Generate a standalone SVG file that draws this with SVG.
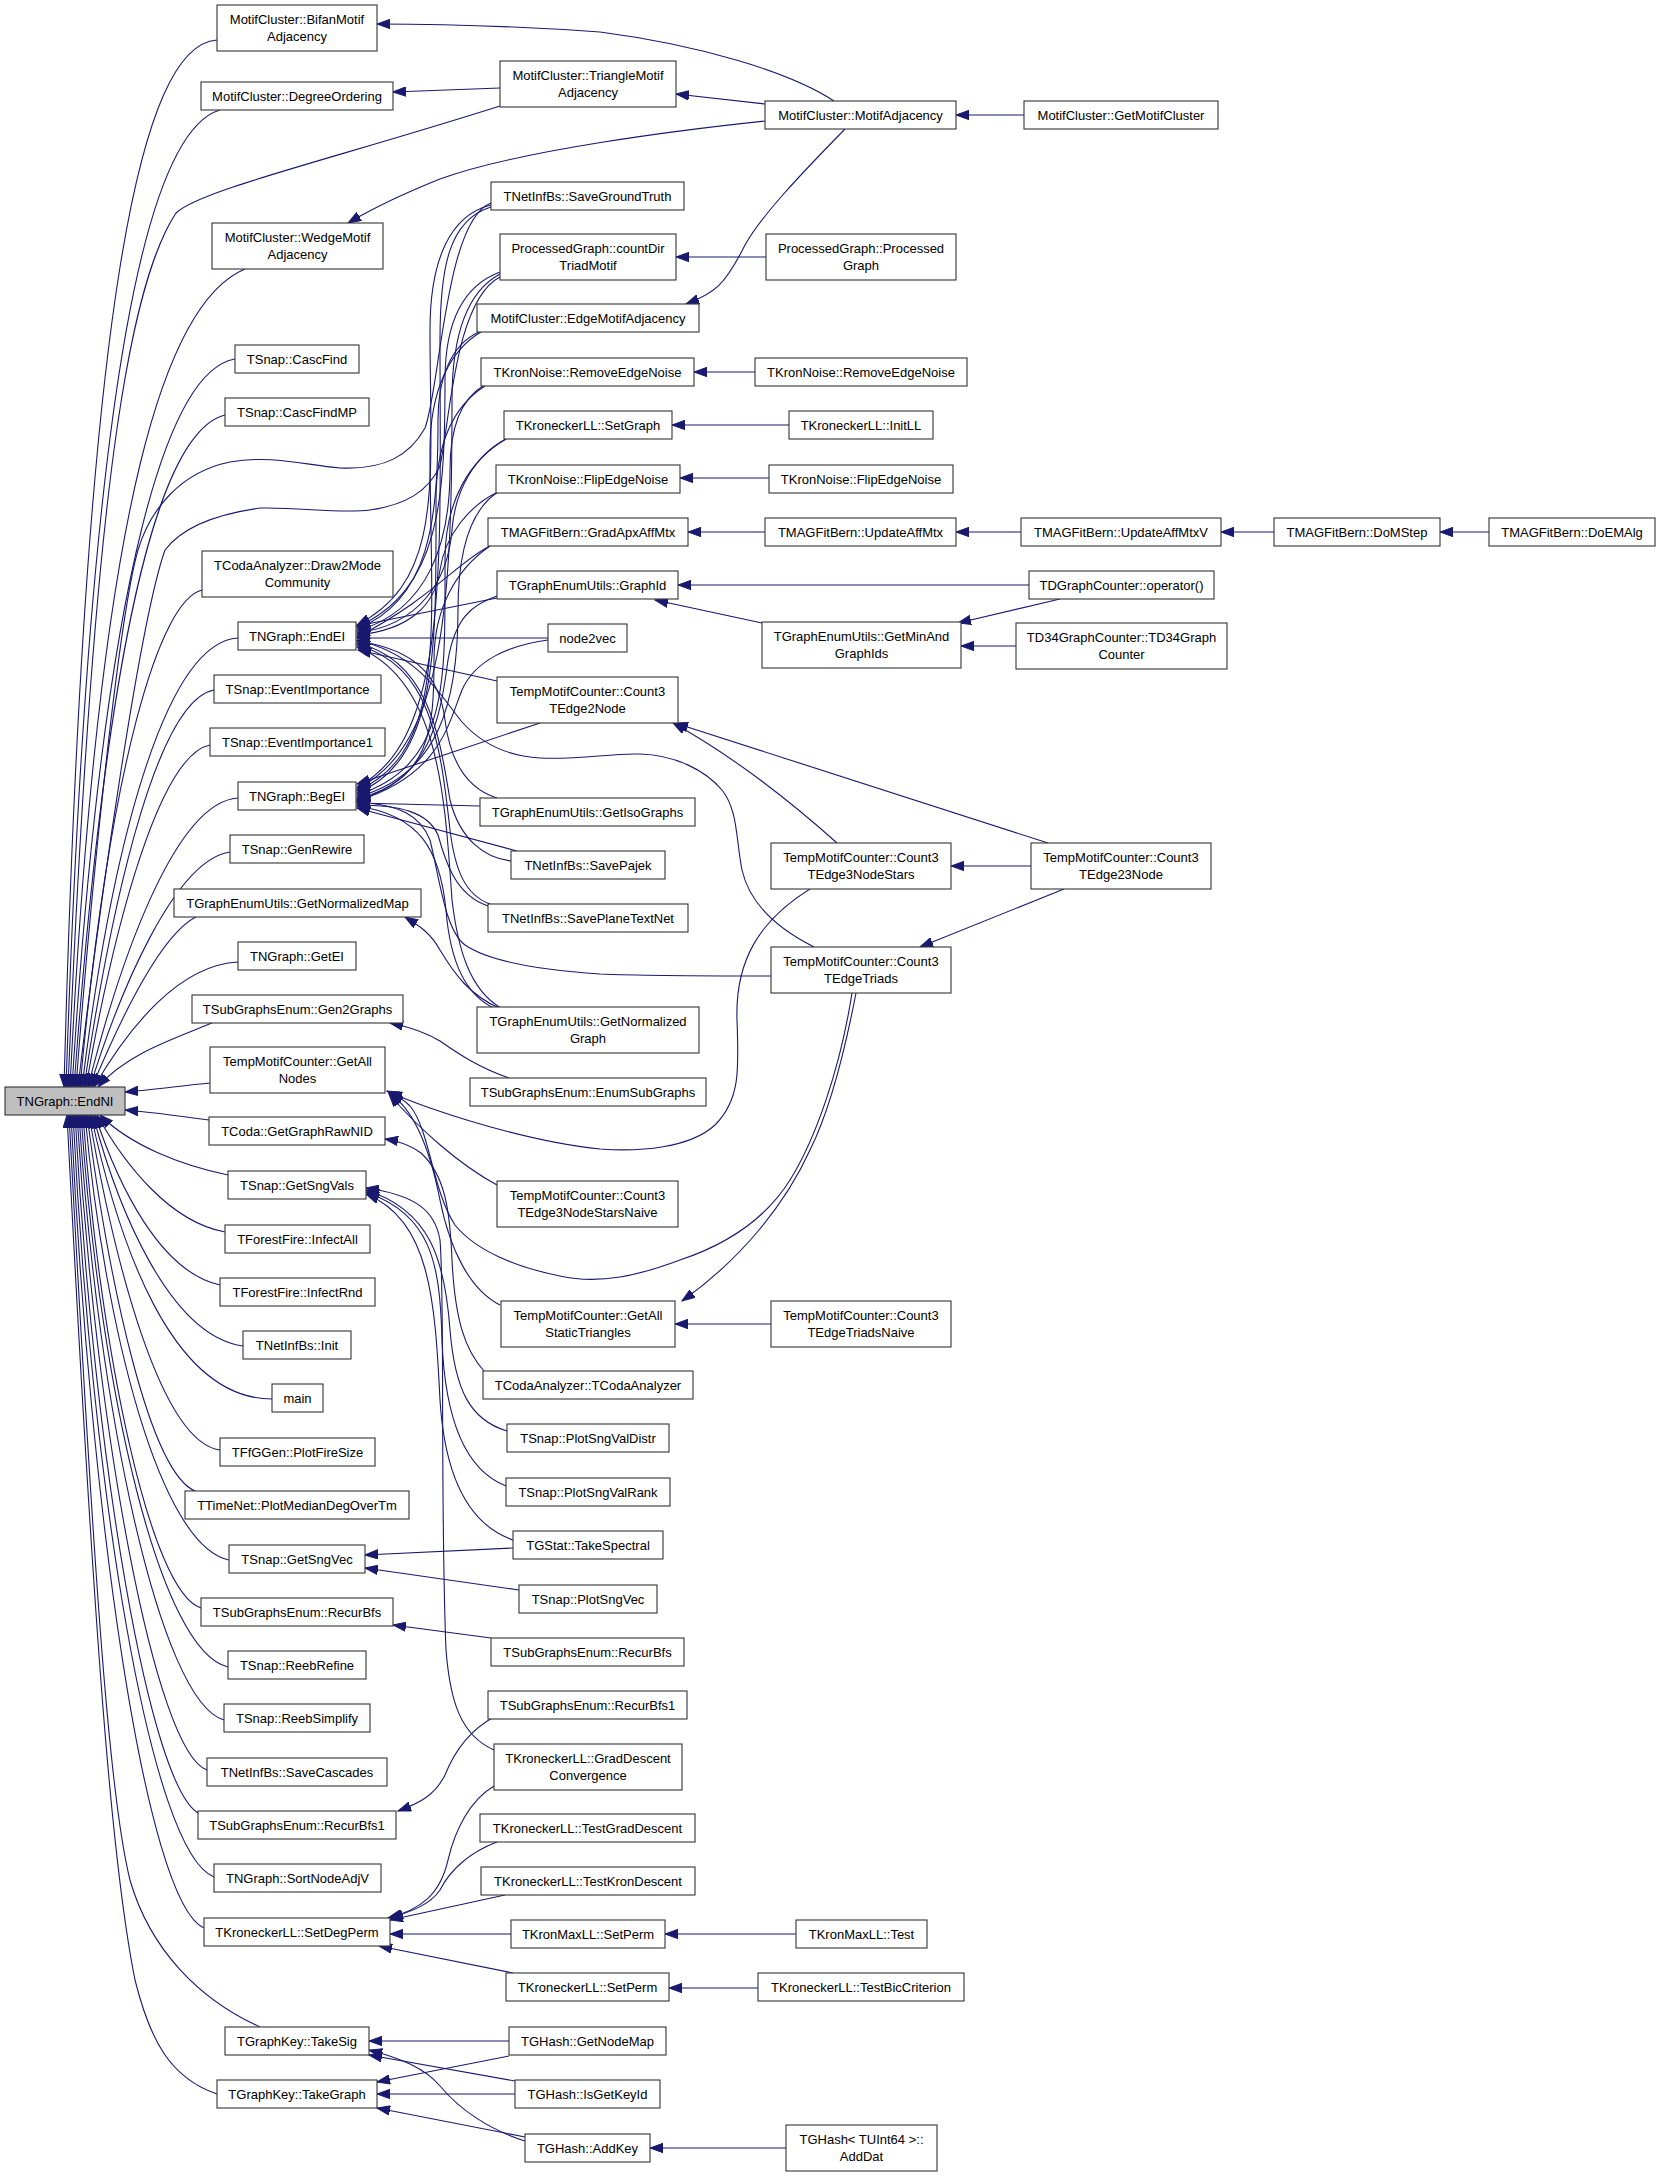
<svg xmlns="http://www.w3.org/2000/svg" width="1661" height="2176" viewBox="0 0 1661 2176">
<defs>
<marker id="ah" markerUnits="userSpaceOnUse" markerWidth="14" markerHeight="10" refX="13" refY="5" orient="auto"><path d="M0,0.3L13,5L0,9.7z" fill="#191970" stroke="#191970" stroke-width="1"/></marker>
</defs>
<style>
.n rect{fill:#fff;stroke:#333;stroke-width:1.1}
.n text{font-family:"Liberation Sans",Arial,Helvetica,sans-serif;font-size:13px;fill:#000;text-anchor:middle}
#n_endni rect{fill:#bfbfbf}
.e path{fill:none;stroke:#191970;stroke-width:1.1;marker-end:url(#ah)}
</style>
<rect width="1661" height="2176" fill="#fff"/>
<g id="edges" class="e">
<path d="M217,40 C140,45 85,300 64,1087"/>
<path d="M220,110 C150,130 90,360 66,1087"/>
<path d="M500,106 C330,160 200,190 176,213 C125,290 92,520 68,1087"/>
<path d="M245,269 C170,300 100,480 70,1087"/>
<path d="M235,359 C170,370 105,560 72,1087"/>
<path d="M225,415 C165,430 110,600 74,1087"/>
<path d="M491,203 C445,220 440,390 425,428 C410,455 385,470 340,468 C300,464 270,455 230,462 C180,472 150,510 138,550 C118,620 90,900 76,1087"/>
<path d="M500,277 C455,300 450,420 440,466 C428,492 405,505 370,510 C340,514 300,507 260,508 C210,515 180,530 165,550 C140,620 100,900 78,1087"/>
<path d="M202,590 C160,600 110,760 80,1087"/>
<path d="M238,638 C170,642 115,820 82,1087"/>
<path d="M214,690 C160,700 115,880 84,1087"/>
<path d="M210,745 C160,755 115,920 86,1087"/>
<path d="M238,798 C175,802 120,960 88,1087"/>
<path d="M230,852 C175,860 120,990 90,1087"/>
<path d="M196,917 C160,935 120,1020 92,1087"/>
<path d="M238,962 C180,965 130,1025 94,1087"/>
<path d="M212,1023 C170,1040 125,1055 98,1087"/>
<path d="M210,1083 C180,1086 150,1090 125,1092"/>
<path d="M209,1120 C180,1116 150,1112 125,1110"/>
<path d="M228,1175 C180,1165 130,1145 100,1115"/>
<path d="M225,1232 C170,1222 125,1165 97,1115"/>
<path d="M220,1285 C160,1272 118,1185 95,1115"/>
<path d="M243,1346 C170,1336 118,1210 93,1115"/>
<path d="M272,1399 C170,1399 118,1240 91,1115"/>
<path d="M220,1450 C160,1442 114,1260 89,1115"/>
<path d="M195,1491 C150,1472 110,1290 87,1115"/>
<path d="M229,1560 C160,1546 105,1330 85,1115"/>
<path d="M201,1608 C150,1592 100,1350 83,1115"/>
<path d="M228,1667 C160,1652 100,1390 81,1115"/>
<path d="M224,1720 C160,1702 98,1410 79,1115"/>
<path d="M207,1770 C155,1752 96,1430 77,1115"/>
<path d="M200,1814 C150,1792 94,1460 75,1115"/>
<path d="M214,1877 C150,1852 92,1490 73,1115"/>
<path d="M204,1928 C145,1902 90,1510 71,1115"/>
<path d="M260,2027 C200,2000 150,1950 130,1880 C110,1800 95,1600 69,1115"/>
<path d="M217,2094 C170,2078 150,2040 135,1980 C115,1880 97,1700 67,1115"/>
<path d="M834,101 C790,72 700,45 600,32 C500,25 430,24 377,24"/>
<path d="M500,88 L393,92"/>
<path d="M765,104 L676,94"/>
<path d="M765,121 C680,130 520,150 440,179 C400,195 370,210 348,223"/>
<path d="M1024,115 L956,115"/>
<path d="M845,129 C800,175 762,215 745,245 C725,285 715,293 686,304"/>
<path d="M766,257 L676,257"/>
<path d="M755,372 L694,372"/>
<path d="M789,425 L672,425"/>
<path d="M769,478 L680,478"/>
<path d="M765,532 L688,532"/>
<path d="M1021,532 L956,532"/>
<path d="M1274,532 L1221,532"/>
<path d="M1489,532 L1440,532"/>
<path d="M1029,585 L678,585"/>
<path d="M762,623 L655,600"/>
<path d="M1060,599 L958,623"/>
<path d="M1016,646 L961,646"/>
<path d="M837,843 C800,810 740,760 673,723"/>
<path d="M1048,843 L675,723"/>
<path d="M1031,866 L951,866"/>
<path d="M1064,889 L920,947"/>
<path d="M810,889 C760,920 735,960 737,1020 C739,1070 740,1100 715,1125 C690,1148 640,1152 600,1149 C540,1143 470,1122 430,1108 C410,1101 398,1096 387,1091"/>
<path d="M852,993 C840,1070 815,1140 790,1180 C765,1220 725,1245 680,1260 C640,1275 600,1285 560,1276 C515,1267 475,1250 455,1225 C432,1190 430,1130 410,1106 C403,1099 396,1095 389,1093"/>
<path d="M856,993 C845,1050 830,1110 810,1150 C785,1205 740,1260 682,1301"/>
<path d="M771,1324 L675,1324"/>
<path d="M497,1185 C460,1165 420,1130 389,1094"/>
<path d="M500,1305 C470,1290 450,1250 440,1200 C430,1150 415,1110 390,1094"/>
<path d="M484,1371 C465,1350 455,1320 452,1260 C450,1210 445,1175 421,1153 C410,1145 398,1141 385,1139"/>
<path d="M507,1431 C470,1420 455,1390 450,1330 C445,1260 430,1210 366,1190"/>
<path d="M506,1486 C465,1470 445,1420 442,1340 C440,1260 430,1215 366,1192"/>
<path d="M513,1540 C470,1525 445,1480 440,1400 C435,1300 430,1220 366,1194"/>
<path d="M494,1750 C460,1735 450,1700 446,1650 C440,1500 445,1300 440,1240 C435,1210 415,1195 366,1188"/>
<path d="M513,1548 L365,1555"/>
<path d="M519,1590 L365,1568"/>
<path d="M491,1638 L393,1625"/>
<path d="M494,1717 C470,1730 455,1750 445,1775 C435,1795 420,1803 398,1811"/>
<path d="M494,1786 C470,1800 455,1830 448,1860 C440,1895 420,1910 388,1918"/>
<path d="M497,1842 C470,1852 450,1870 440,1890 C430,1905 410,1912 390,1918"/>
<path d="M505,1895 L390,1920"/>
<path d="M511,1934 L390,1934"/>
<path d="M513,1973 L379,1946"/>
<path d="M509,2041 L369,2041"/>
<path d="M515,2081 L369,2055"/>
<path d="M525,2141 C490,2130 460,2110 440,2086 C425,2068 400,2058 369,2050"/>
<path d="M509,2056 L377,2082"/>
<path d="M515,2094 L377,2094"/>
<path d="M525,2137 L377,2108"/>
<path d="M786,2148 L650,2148"/>
<path d="M796,1934 L665,1934"/>
<path d="M758,1988 L669,1988"/>
<path d="M509,1078 C480,1068 460,1055 440,1041 C425,1032 410,1027 390,1023"/>
<path d="M499,1008 C470,995 455,975 440,950 C430,932 418,925 405,917"/>
<path d="M491,205 C450,215 430,260 430,330 C430,480 445,580 357,625"/>
<path d="M491,207 C448,220 440,270 440,340 C440,560 450,740 357,787"/>
<path d="M500,272 C465,285 445,320 445,380 C445,500 440,590 357,627"/>
<path d="M500,274 C470,290 452,330 452,400 C452,600 445,745 357,789"/>
<path d="M479,332 C450,345 438,380 438,420 C438,520 430,600 357,629"/>
<path d="M481,332 C450,350 430,390 430,450 C430,620 450,750 357,791"/>
<path d="M483,386 C460,400 450,430 450,470 C450,540 430,610 357,631"/>
<path d="M485,386 C455,405 436,440 436,500 C436,640 440,760 357,793"/>
<path d="M506,439 C475,455 455,490 452,530 C448,580 420,625 357,633"/>
<path d="M506,439 C470,460 445,500 445,560 C445,680 450,765 357,795"/>
<path d="M498,492 C470,505 445,535 440,570 C435,605 410,630 357,635"/>
<path d="M498,492 C470,510 458,550 458,610 C458,700 440,775 357,797"/>
<path d="M490,546 C460,560 430,600 357,637"/>
<path d="M490,546 C455,570 434,610 434,660 C434,730 430,780 357,799"/>
<path d="M497,598 L357,626"/>
<path d="M497,596 C470,605 455,620 448,660 C440,720 430,780 357,800"/>
<path d="M548,638 L357,638"/>
<path d="M548,640 C510,645 475,660 462,690 C448,725 440,775 357,801"/>
<path d="M497,681 L358,650"/>
<path d="M540,723 L357,784"/>
<path d="M497,798 C465,788 450,760 445,720 C440,680 420,650 357,641"/>
<path d="M480,806 L357,803"/>
<path d="M511,861 C485,858 460,840 450,800 C440,740 430,660 357,643"/>
<path d="M517,851 L357,808"/>
<path d="M490,904 C465,895 455,870 450,830 C440,740 430,665 357,645"/>
<path d="M488,906 C455,895 445,860 438,835 C428,812 400,805 357,805"/>
<path d="M501,1008 C470,990 458,950 452,900 C445,800 440,680 357,647"/>
<path d="M494,1008 C465,995 450,960 446,910 C440,850 420,815 357,806"/>
<path d="M814,947 C780,930 750,905 742,870 C736,840 738,810 722,790 C705,770 675,755 640,754 C610,753 580,760 540,758 C505,756 480,742 462,722 C440,695 420,655 357,640"/>
<path d="M771,976 C720,976 650,976 600,974 C540,970 490,962 465,945 C445,930 440,880 430,840 C420,815 400,805 357,802"/>
</g>
<g id="n_bifan" class="n"><rect x="217" y="5" width="160" height="46"/><text x="297" y="23.5">MotifCluster::BifanMotif</text><text x="297" y="40.5">Adjacency</text></g>
<g id="n_degord" class="n"><rect x="201" y="82" width="192" height="28"/><text x="297" y="100.5">MotifCluster::DegreeOrdering</text></g>
<g id="n_wedge" class="n"><rect x="212" y="223" width="171" height="46"/><text x="297.5" y="241.5">MotifCluster::WedgeMotif</text><text x="297.5" y="258.5">Adjacency</text></g>
<g id="n_cascfind" class="n"><rect x="235" y="345" width="124" height="28"/><text x="297" y="363.5">TSnap::CascFind</text></g>
<g id="n_cascfindmp" class="n"><rect x="225" y="398" width="144" height="28"/><text x="297" y="416.5">TSnap::CascFindMP</text></g>
<g id="n_draw2mode" class="n"><rect x="202" y="551" width="191" height="46"/><text x="297.5" y="569.5">TCodaAnalyzer::Draw2Mode</text><text x="297.5" y="586.5">Community</text></g>
<g id="n_endei" class="n"><rect x="238" y="622" width="118" height="28"/><text x="297" y="640.5">TNGraph::EndEI</text></g>
<g id="n_evimp" class="n"><rect x="214" y="675" width="167" height="28"/><text x="297.5" y="693.5">TSnap::EventImportance</text></g>
<g id="n_evimp1" class="n"><rect x="210" y="728" width="175" height="28"/><text x="297.5" y="746.5">TSnap::EventImportance1</text></g>
<g id="n_begei" class="n"><rect x="238" y="782" width="118" height="28"/><text x="297" y="800.5">TNGraph::BegEI</text></g>
<g id="n_genrewire" class="n"><rect x="230" y="835" width="134" height="28"/><text x="297" y="853.5">TSnap::GenRewire</text></g>
<g id="n_getnormmap" class="n"><rect x="174" y="889" width="247" height="28"/><text x="297.5" y="907.5">TGraphEnumUtils::GetNormalizedMap</text></g>
<g id="n_getei" class="n"><rect x="238" y="942" width="118" height="28"/><text x="297" y="960.5">TNGraph::GetEI</text></g>
<g id="n_gen2graphs" class="n"><rect x="192" y="995" width="211" height="28"/><text x="297.5" y="1013.5">TSubGraphsEnum::Gen2Graphs</text></g>
<g id="n_getallnodes" class="n"><rect x="210" y="1047" width="175" height="46"/><text x="297.5" y="1065.5">TempMotifCounter::GetAll</text><text x="297.5" y="1082.5">Nodes</text></g>
<g id="n_endni" class="n"><rect x="5" y="1087" width="120" height="28"/><text x="65" y="1105.5">TNGraph::EndNI</text></g>
<g id="n_rawnid" class="n"><rect x="209" y="1117" width="176" height="28"/><text x="297" y="1135.5">TCoda::GetGraphRawNID</text></g>
<g id="n_getsngvals" class="n"><rect x="228" y="1171" width="138" height="28"/><text x="297" y="1189.5">TSnap::GetSngVals</text></g>
<g id="n_infectall" class="n"><rect x="225" y="1225" width="145" height="28"/><text x="297.5" y="1243.5">TForestFire::InfectAll</text></g>
<g id="n_infectrnd" class="n"><rect x="220" y="1278" width="155" height="28"/><text x="297.5" y="1296.5">TForestFire::InfectRnd</text></g>
<g id="n_init" class="n"><rect x="243" y="1331" width="108" height="28"/><text x="297" y="1349.5">TNetInfBs::Init</text></g>
<g id="n_main" class="n"><rect x="272" y="1384" width="51" height="28"/><text x="297.5" y="1402.5">main</text></g>
<g id="n_plotfire" class="n"><rect x="220" y="1438" width="155" height="28"/><text x="297.5" y="1456.5">TFfGGen::PlotFireSize</text></g>
<g id="n_plotmedian" class="n"><rect x="185" y="1491" width="224" height="28"/><text x="297" y="1509.5">TTimeNet::PlotMedianDegOverTm</text></g>
<g id="n_getsngvec" class="n"><rect x="229" y="1545" width="136" height="28"/><text x="297" y="1563.5">TSnap::GetSngVec</text></g>
<g id="n_recurbfs" class="n"><rect x="201" y="1598" width="192" height="28"/><text x="297" y="1616.5">TSubGraphsEnum::RecurBfs</text></g>
<g id="n_reebrefine" class="n"><rect x="228" y="1651" width="138" height="28"/><text x="297" y="1669.5">TSnap::ReebRefine</text></g>
<g id="n_reebsimplify" class="n"><rect x="224" y="1704" width="146" height="28"/><text x="297" y="1722.5">TSnap::ReebSimplify</text></g>
<g id="n_savecascades" class="n"><rect x="207" y="1758" width="180" height="28"/><text x="297" y="1776.5">TNetInfBs::SaveCascades</text></g>
<g id="n_recurbfs1" class="n"><rect x="198" y="1811" width="198" height="28"/><text x="297" y="1829.5">TSubGraphsEnum::RecurBfs1</text></g>
<g id="n_sortnode" class="n"><rect x="214" y="1864" width="167" height="28"/><text x="297.5" y="1882.5">TNGraph::SortNodeAdjV</text></g>
<g id="n_setdegperm" class="n"><rect x="204" y="1918" width="186" height="28"/><text x="297" y="1936.5">TKroneckerLL::SetDegPerm</text></g>
<g id="n_takesig" class="n"><rect x="225" y="2027" width="144" height="28"/><text x="297" y="2045.5">TGraphKey::TakeSig</text></g>
<g id="n_takegraph" class="n"><rect x="217" y="2080" width="160" height="28"/><text x="297" y="2098.5">TGraphKey::TakeGraph</text></g>
<g id="n_triangle" class="n"><rect x="500" y="61" width="176" height="46"/><text x="588" y="79.5">MotifCluster::TriangleMotif</text><text x="588" y="96.5">Adjacency</text></g>
<g id="n_savegt" class="n"><rect x="491" y="182" width="193" height="28"/><text x="587.5" y="200.5">TNetInfBs::SaveGroundTruth</text></g>
<g id="n_countdir" class="n"><rect x="500" y="234" width="176" height="46"/><text x="588" y="252.5">ProcessedGraph::countDir</text><text x="588" y="269.5">TriadMotif</text></g>
<g id="n_edgemotif" class="n"><rect x="477" y="304" width="222" height="28"/><text x="588" y="322.5">MotifCluster::EdgeMotifAdjacency</text></g>
<g id="n_removeedge" class="n"><rect x="481" y="358" width="213" height="28"/><text x="587.5" y="376.5">TKronNoise::RemoveEdgeNoise</text></g>
<g id="n_setgraph" class="n"><rect x="504" y="411" width="168" height="28"/><text x="588" y="429.5">TKroneckerLL::SetGraph</text></g>
<g id="n_flipedge" class="n"><rect x="496" y="465" width="184" height="28"/><text x="588" y="483.5">TKronNoise::FlipEdgeNoise</text></g>
<g id="n_gradapx" class="n"><rect x="488" y="518" width="200" height="28"/><text x="588" y="536.5">TMAGFitBern::GradApxAffMtx</text></g>
<g id="n_graphid" class="n"><rect x="497" y="571" width="181" height="28"/><text x="587.5" y="589.5">TGraphEnumUtils::GraphId</text></g>
<g id="n_node2vec" class="n"><rect x="548" y="624" width="79" height="28"/><text x="587.5" y="642.5">node2vec</text></g>
<g id="n_count2node" class="n"><rect x="497" y="677" width="181" height="46"/><text x="587.5" y="695.5">TempMotifCounter::Count3</text><text x="587.5" y="712.5">TEdge2Node</text></g>
<g id="n_getiso" class="n"><rect x="480" y="798" width="215" height="28"/><text x="587.5" y="816.5">TGraphEnumUtils::GetIsoGraphs</text></g>
<g id="n_savepajek" class="n"><rect x="511" y="851" width="154" height="28"/><text x="588" y="869.5">TNetInfBs::SavePajek</text></g>
<g id="n_saveplane" class="n"><rect x="488" y="904" width="200" height="28"/><text x="588" y="922.5">TNetInfBs::SavePlaneTextNet</text></g>
<g id="n_getnormgraph" class="n"><rect x="477" y="1007" width="222" height="46"/><text x="588" y="1025.5">TGraphEnumUtils::GetNormalized</text><text x="588" y="1042.5">Graph</text></g>
<g id="n_enumsub" class="n"><rect x="470" y="1078" width="236" height="28"/><text x="588" y="1096.5">TSubGraphsEnum::EnumSubGraphs</text></g>
<g id="n_starsnaive" class="n"><rect x="497" y="1181" width="181" height="46"/><text x="587.5" y="1199.5">TempMotifCounter::Count3</text><text x="587.5" y="1216.5">TEdge3NodeStarsNaive</text></g>
<g id="n_statictri" class="n"><rect x="501" y="1301" width="174" height="46"/><text x="588" y="1319.5">TempMotifCounter::GetAll</text><text x="588" y="1336.5">StaticTriangles</text></g>
<g id="n_tcodaan" class="n"><rect x="483" y="1371" width="210" height="28"/><text x="588" y="1389.5">TCodaAnalyzer::TCodaAnalyzer</text></g>
<g id="n_plotsngdistr" class="n"><rect x="507" y="1424" width="162" height="28"/><text x="588" y="1442.5">TSnap::PlotSngValDistr</text></g>
<g id="n_plotsngrank" class="n"><rect x="506" y="1478" width="164" height="28"/><text x="588" y="1496.5">TSnap::PlotSngValRank</text></g>
<g id="n_takespectral" class="n"><rect x="513" y="1531" width="150" height="28"/><text x="588" y="1549.5">TGStat::TakeSpectral</text></g>
<g id="n_plotsngvec" class="n"><rect x="519" y="1585" width="138" height="28"/><text x="588" y="1603.5">TSnap::PlotSngVec</text></g>
<g id="n_recurbfs_2" class="n"><rect x="491" y="1638" width="193" height="28"/><text x="587.5" y="1656.5">TSubGraphsEnum::RecurBfs</text></g>
<g id="n_recurbfs1_2" class="n"><rect x="488" y="1691" width="199" height="28"/><text x="587.5" y="1709.5">TSubGraphsEnum::RecurBfs1</text></g>
<g id="n_graddesc" class="n"><rect x="494" y="1744" width="188" height="46"/><text x="588" y="1762.5">TKroneckerLL::GradDescent</text><text x="588" y="1779.5">Convergence</text></g>
<g id="n_testgrad" class="n"><rect x="480" y="1814" width="215" height="28"/><text x="587.5" y="1832.5">TKroneckerLL::TestGradDescent</text></g>
<g id="n_testkron" class="n"><rect x="481" y="1867" width="214" height="28"/><text x="588" y="1885.5">TKroneckerLL::TestKronDescent</text></g>
<g id="n_maxllsetperm" class="n"><rect x="511" y="1920" width="154" height="28"/><text x="588" y="1938.5">TKronMaxLL::SetPerm</text></g>
<g id="n_llsetperm" class="n"><rect x="506" y="1973" width="163" height="28"/><text x="587.5" y="1991.5">TKroneckerLL::SetPerm</text></g>
<g id="n_getnodemap" class="n"><rect x="509" y="2027" width="157" height="28"/><text x="587.5" y="2045.5">TGHash::GetNodeMap</text></g>
<g id="n_isgetkeyid" class="n"><rect x="515" y="2080" width="145" height="28"/><text x="587.5" y="2098.5">TGHash::IsGetKeyId</text></g>
<g id="n_addkey" class="n"><rect x="525" y="2134" width="125" height="28"/><text x="587.5" y="2152.5">TGHash::AddKey</text></g>
<g id="n_motifadj" class="n"><rect x="765" y="101" width="191" height="28"/><text x="860.5" y="119.5">MotifCluster::MotifAdjacency</text></g>
<g id="n_procgraph" class="n"><rect x="766" y="234" width="190" height="46"/><text x="861" y="252.5">ProcessedGraph::Processed</text><text x="861" y="269.5">Graph</text></g>
<g id="n_removeedge3" class="n"><rect x="755" y="358" width="212" height="28"/><text x="861" y="376.5">TKronNoise::RemoveEdgeNoise</text></g>
<g id="n_initll" class="n"><rect x="789" y="411" width="144" height="28"/><text x="861" y="429.5">TKroneckerLL::InitLL</text></g>
<g id="n_flipedge3" class="n"><rect x="769" y="465" width="184" height="28"/><text x="861" y="483.5">TKronNoise::FlipEdgeNoise</text></g>
<g id="n_updateaff" class="n"><rect x="765" y="518" width="191" height="28"/><text x="860.5" y="536.5">TMAGFitBern::UpdateAffMtx</text></g>
<g id="n_getminand" class="n"><rect x="762" y="622" width="199" height="46"/><text x="861.5" y="640.5">TGraphEnumUtils::GetMinAnd</text><text x="861.5" y="657.5">GraphIds</text></g>
<g id="n_stars" class="n"><rect x="771" y="843" width="180" height="46"/><text x="861" y="861.5">TempMotifCounter::Count3</text><text x="861" y="878.5">TEdge3NodeStars</text></g>
<g id="n_triads" class="n"><rect x="771" y="947" width="180" height="46"/><text x="861" y="965.5">TempMotifCounter::Count3</text><text x="861" y="982.5">TEdgeTriads</text></g>
<g id="n_triadsnaive" class="n"><rect x="771" y="1301" width="180" height="46"/><text x="861" y="1319.5">TempMotifCounter::Count3</text><text x="861" y="1336.5">TEdgeTriadsNaive</text></g>
<g id="n_maxlltest" class="n"><rect x="796" y="1920" width="131" height="28"/><text x="861.5" y="1938.5">TKronMaxLL::Test</text></g>
<g id="n_testbic" class="n"><rect x="758" y="1973" width="206" height="28"/><text x="861" y="1991.5">TKroneckerLL::TestBicCriterion</text></g>
<g id="n_adddat" class="n"><rect x="786" y="2125" width="151" height="46"/><text x="861.5" y="2143.5">TGHash&lt; TUInt64 &gt;::</text><text x="861.5" y="2160.5">AddDat</text></g>
<g id="n_getmotifcluster" class="n"><rect x="1024" y="101" width="194" height="28"/><text x="1121" y="119.5">MotifCluster::GetMotifCluster</text></g>
<g id="n_updateaffv" class="n"><rect x="1021" y="518" width="200" height="28"/><text x="1121" y="536.5">TMAGFitBern::UpdateAffMtxV</text></g>
<g id="n_tdgraphcounter" class="n"><rect x="1029" y="571" width="185" height="28"/><text x="1121.5" y="589.5">TDGraphCounter::operator()</text></g>
<g id="n_td34" class="n"><rect x="1016" y="623" width="211" height="46"/><text x="1121.5" y="641.5">TD34GraphCounter::TD34Graph</text><text x="1121.5" y="658.5">Counter</text></g>
<g id="n_c23node" class="n"><rect x="1031" y="843" width="180" height="46"/><text x="1121" y="861.5">TempMotifCounter::Count3</text><text x="1121" y="878.5">TEdge23Node</text></g>
<g id="n_domstep" class="n"><rect x="1274" y="518" width="166" height="28"/><text x="1357" y="536.5">TMAGFitBern::DoMStep</text></g>
<g id="n_doemalg" class="n"><rect x="1489" y="518" width="166" height="28"/><text x="1572" y="536.5">TMAGFitBern::DoEMAlg</text></g>
</svg>
